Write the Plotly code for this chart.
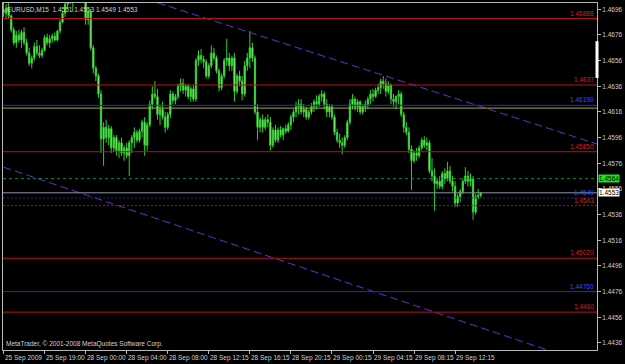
import plotly.graph_objects as go

# ---------------- data (EURUSD M15) ----------------
opens = [1.4696,1.4693,1.4697,1.4691,1.4680,1.4670,1.4676,1.4672,1.4678,1.4670,
 1.4662,1.4654,1.4658,1.4667,1.4662,1.4660,1.4664,1.4674,1.4670,1.4673,
 1.4675,1.4672,1.4679,1.4686,1.4693,1.4700,1.4705,1.4710,1.4708,1.4715,
 1.4712,1.4710,1.4706,1.4688,1.4694,1.4666,1.4650,1.4644,1.4630,1.4595,
 1.4604,1.4596,1.4603,1.4588,1.4596,1.4586,1.4592,1.4584,1.4588,1.4582,
 1.4592,1.4596,1.4600,1.4594,1.4601,1.4608,1.4590,1.4606,1.4622,1.4630,
 1.4628,1.4614,1.4618,1.4612,1.4604,1.4614,1.4630,1.4625,1.4628,1.4636,
 1.4638,1.4633,1.4636,1.4628,1.4634,1.4626,1.4656,1.4660,1.4657,1.4655,
 1.4644,1.4652,1.4662,1.4658,1.4648,1.4635,1.4644,1.4656,1.4658,1.4652,
 1.4658,1.4632,1.4644,1.4640,1.4630,1.4652,1.4658,1.4666,1.4658,1.4616,
 1.4604,1.4610,1.4604,1.4610,1.4608,1.4590,1.4602,1.4594,1.4602,1.4598,
 1.4603,1.4601,1.4606,1.4612,1.4616,1.4620,1.4622,1.4616,1.4618,1.4612,
 1.4616,1.4620,1.4624,1.4622,1.4628,1.4630,1.4622,1.4616,1.4620,1.4612,
 1.4600,1.4594,1.4592,1.4590,1.4596,1.4608,1.4622,1.4626,1.4620,1.4624,
 1.4616,1.4620,1.4622,1.4626,1.4630,1.4628,1.4633,1.4635,1.4640,1.4638,
 1.4632,1.4637,1.4626,1.4624,1.4628,1.4630,1.4614,1.4604,1.4600,1.4587,
 1.4578,1.4584,1.4582,1.4588,1.4594,1.4590,1.4592,1.4570,1.4566,1.4560,
 1.4562,1.4558,1.4568,1.4564,1.4570,1.4562,1.4558,1.4545,1.4550,1.4554,
 1.4562,1.4566,1.4562,1.4564,1.4538,1.4550,1.4551]

highs = [1.4704,1.4700,1.4701,1.4692,1.4682,1.4679,1.4680,1.4680,1.4682,1.4673,
 1.4666,1.4660,1.4670,1.4672,1.4668,1.4666,1.4676,1.4677,1.4676,1.4677,
 1.4678,1.4680,1.4688,1.4695,1.4703,1.4708,1.4712,1.4715,1.4718,1.4720,
 1.4718,1.4714,1.4708,1.4696,1.4696,1.4668,1.4652,1.4646,1.4633,1.4608,
 1.4610,1.4606,1.4605,1.4598,1.4598,1.4594,1.4596,1.4590,1.4592,1.4594,
 1.4598,1.4604,1.4602,1.4603,1.4610,1.4612,1.4608,1.4625,1.4636,1.4640,
 1.4634,1.4622,1.4624,1.4616,1.4616,1.4633,1.4632,1.4630,1.4638,1.4642,
 1.4642,1.4638,1.4638,1.4636,1.4637,1.4658,1.4664,1.4665,1.4660,1.4657,
 1.4654,1.4668,1.4666,1.4660,1.4650,1.4646,1.4658,1.4673,1.4662,1.4660,
 1.4662,1.4646,1.4648,1.4644,1.4656,1.4662,1.4679,1.4670,1.4660,1.4622,
 1.4612,1.4614,1.4612,1.4614,1.4612,1.4604,1.4606,1.4604,1.4605,1.4604,
 1.4606,1.4608,1.4614,1.4618,1.4624,1.4626,1.4626,1.4622,1.4620,1.4618,
 1.4623,1.4626,1.4629,1.4630,1.4633,1.4632,1.4626,1.4622,1.4622,1.4614,
 1.4603,1.4599,1.4596,1.4598,1.4610,1.4626,1.4630,1.4628,1.4626,1.4625,
 1.4622,1.4625,1.4628,1.4633,1.4634,1.4635,1.4638,1.4642,1.4644,1.4642,
 1.4640,1.4638,1.4630,1.4629,1.4633,1.4632,1.4616,1.4608,1.4604,1.4590,
 1.4586,1.4588,1.4590,1.4596,1.4597,1.4596,1.4594,1.4580,1.4572,1.4564,
 1.4566,1.4570,1.4572,1.4577,1.4574,1.4566,1.4562,1.4552,1.4556,1.4564,
 1.4573,1.4570,1.4568,1.4566,1.4552,1.4556,1.4553]

lows = [1.4690,1.4688,1.4689,1.4678,1.4668,1.4666,1.4670,1.4666,1.4668,1.4660,
 1.4652,1.4650,1.4656,1.4660,1.4658,1.4658,1.4663,1.4668,1.4666,1.4670,
 1.4671,1.4671,1.4677,1.4685,1.4690,1.4696,1.4700,1.4694,1.4704,1.4708,
 1.4706,1.4704,1.4684,1.4684,1.4664,1.4646,1.4640,1.4627,1.4584,1.4574,
 1.4592,1.4590,1.4584,1.4585,1.4582,1.4580,1.4582,1.4578,1.4580,1.4566,
 1.4584,1.4588,1.4592,1.4592,1.4596,1.4582,1.4586,1.4604,1.4618,1.4626,
 1.4610,1.4606,1.4610,1.4600,1.4602,1.4611,1.4622,1.4622,1.4626,1.4632,
 1.4630,1.4628,1.4626,1.4624,1.4624,1.4624,1.4652,1.4654,1.4650,1.4642,
 1.4642,1.4650,1.4656,1.4646,1.4632,1.4633,1.4642,1.4652,1.4648,1.4648,
 1.4624,1.4630,1.4636,1.4625,1.4628,1.4648,1.4650,1.4655,1.4614,1.4594,
 1.4600,1.4600,1.4602,1.4604,1.4586,1.4588,1.4592,1.4592,1.4596,1.4594,
 1.4599,1.4600,1.4602,1.4608,1.4612,1.4614,1.4614,1.4612,1.4610,1.4610,
 1.4614,1.4616,1.4618,1.4620,1.4624,1.4618,1.4612,1.4612,1.4610,1.4598,
 1.4592,1.4588,1.4583,1.4588,1.4594,1.4606,1.4618,1.4617,1.4616,1.4614,
 1.4614,1.4616,1.4618,1.4622,1.4624,1.4627,1.4630,1.4630,1.4634,1.4628,
 1.4630,1.4622,1.4620,1.4618,1.4622,1.4612,1.4600,1.4598,1.4584,1.4555,
 1.4576,1.4578,1.4580,1.4586,1.4588,1.4586,1.4568,1.4562,1.4539,1.4556,
 1.4556,1.4556,1.4560,1.4562,1.4560,1.4554,1.4542,1.4542,1.4546,1.4552,
 1.4560,1.4558,1.4558,1.4532,1.4536,1.4548,1.4549]

closes = [1.4693,1.4697,1.4691,1.4680,1.4670,1.4676,1.4672,1.4678,1.4670,1.4662,
 1.4654,1.4658,1.4667,1.4662,1.4660,1.4664,1.4674,1.4670,1.4673,1.4675,
 1.4672,1.4679,1.4686,1.4693,1.4700,1.4705,1.4710,1.4708,1.4715,1.4712,
 1.4710,1.4706,1.4688,1.4694,1.4666,1.4650,1.4644,1.4630,1.4595,1.4604,
 1.4596,1.4603,1.4588,1.4596,1.4586,1.4592,1.4584,1.4588,1.4582,1.4592,
 1.4596,1.4600,1.4594,1.4601,1.4608,1.4590,1.4606,1.4622,1.4630,1.4628,
 1.4614,1.4618,1.4612,1.4604,1.4614,1.4630,1.4625,1.4628,1.4636,1.4638,
 1.4633,1.4636,1.4628,1.4634,1.4626,1.4656,1.4660,1.4657,1.4655,1.4644,
 1.4652,1.4662,1.4658,1.4648,1.4635,1.4644,1.4656,1.4658,1.4652,1.4658,
 1.4632,1.4644,1.4640,1.4630,1.4652,1.4658,1.4666,1.4658,1.4616,1.4604,
 1.4610,1.4604,1.4610,1.4608,1.4590,1.4602,1.4594,1.4602,1.4598,1.4603,
 1.4601,1.4606,1.4612,1.4616,1.4620,1.4622,1.4616,1.4618,1.4612,1.4616,
 1.4620,1.4624,1.4622,1.4628,1.4630,1.4622,1.4616,1.4620,1.4612,1.4600,
 1.4594,1.4592,1.4590,1.4596,1.4608,1.4622,1.4626,1.4620,1.4624,1.4616,
 1.4620,1.4622,1.4626,1.4630,1.4628,1.4633,1.4635,1.4640,1.4638,1.4632,
 1.4637,1.4626,1.4624,1.4628,1.4630,1.4614,1.4604,1.4600,1.4587,1.4578,
 1.4584,1.4582,1.4588,1.4594,1.4590,1.4592,1.4570,1.4566,1.4560,1.4562,
 1.4558,1.4568,1.4564,1.4570,1.4562,1.4558,1.4545,1.4550,1.4554,1.4562,
 1.4566,1.4562,1.4564,1.4538,1.4550,1.4551,1.4553]

bars = list(range(len(closes)))

# time axis labels (one every 16 bars)
time_tick_bars = [0, 16, 32, 48, 64, 80, 96, 112, 128, 144, 160, 176]
time_tick_text = ["25 Sep 2009", "25 Sep 19:00", "28 Sep 00:00", "28 Sep 04:00",
                  "28 Sep 08:00", "28 Sep 12:15", "28 Sep 16:15", "28 Sep 20:15",
                  "29 Sep 00:15", "29 Sep 04:15", "29 Sep 08:15", "29 Sep 12:15"]

# price scale labels
price_ticks = [1.4696, 1.4676, 1.4656, 1.4636, 1.4616, 1.4596, 1.4576, 1.4556,
               1.4536, 1.4516, 1.4496, 1.4476, 1.4456, 1.4436]

# horizontal line objects
solid_red_levels = [1.46888, 1.4637, 1.4585, 1.4502, 1.4460]
solid_red_labels = ["1.46888", "1.4637", "1.45850", "1.45020", "1.4460"]
solid_blue_levels = [1.46212, 1.4476]
solid_blue_labels = ["1.46190", "1.44760"]
olive_level = 1.4619
dotted_blue_level = 1.4549
dotted_blue_label = "1.4549"
dotted_red_level = 1.4543
dotted_red_label = "1.4543"
dashed_green_level = 1.4564
bid_level = 1.4553

# trend lines (bar index, price)
trend_upper_bars = [60, 232]
trend_upper_prices = [1.47011, 1.45906]
trend_lower_bars = [0, 232]
trend_lower_prices = [1.4573, 1.4417]

header_text = "EURUSD,M15  1.4551 1.4553 1.4549 1.4553"
copyright_text = "MetaTrader, © 2001-2008 MetaQuotes Software Corp."

# ---------------- figure ----------------
FONT = "Liberation Sans, Arial, sans-serif"
AX = "#b8b8b8"
TXT = "#d0d0d0"

fig = go.Figure()

fig.add_trace(go.Candlestick(
    x=bars, open=opens, high=highs, low=lows, close=closes,
    increasing=dict(line=dict(color="#2fd02f", width=1), fillcolor="#a8ff8c"),
    decreasing=dict(line=dict(color="#2fd02f", width=1), fillcolor="#d8ffc8"),
    whiskerwidth=0, showlegend=False, hoverinfo="skip"))

for xs, ys in [(trend_upper_bars, trend_upper_prices), (trend_lower_bars, trend_lower_prices)]:
    fig.add_trace(go.Scatter(x=xs, y=ys, mode="lines", showlegend=False, hoverinfo="skip",
                             line=dict(color="#6a2cd2", width=1, dash="8px,4px")))

shapes = []
def hline(y, color, dash="solid", width=1):
    shapes.append(dict(type="line", xref="paper", x0=0, x1=1, yref="y", y0=y, y1=y,
                       line=dict(color=color, width=width, dash=dash), layer="above"))

for lv in solid_red_levels:
    hline(lv, "#b81414")
for lv in solid_blue_levels:
    hline(lv, "#1830d0")
hline(olive_level, "#a8a830")
hline(dashed_green_level, "#0a8a4a", dash="3px,3px")
hline(bid_level, "#8c94a8")
hline(dotted_blue_level, "#2020b0", dash="2px,2px")
hline(dotted_red_level, "#b81414", dash="2px,2px")

# white marker on price scale
shapes.append(dict(type="line", xref="paper", x0=1, x1=1, yref="paper", y0=0.784, y1=0.89,
                   line=dict(color="#ffffff", width=3)))

annotations = []
def line_label(y, text, color):
    annotations.append(dict(xref="paper", x=1, xanchor="right", xshift=-1,
                            yref="y", y=y, yanchor="bottom", yshift=0,
                            text=text, showarrow=False,
                            font=dict(family=FONT, size=6.5, color=color)))

for lv, t in zip(solid_red_levels, solid_red_labels):
    line_label(lv, t, "#d02020")
for lv, t in zip(solid_blue_levels, solid_blue_labels):
    line_label(lv, t, "#3050ff")
line_label(dotted_blue_level, dotted_blue_label, "#3050ff")
line_label(dotted_red_level, dotted_red_label, "#d02020")

# price boxes on the scale
annotations.append(dict(xref="paper", x=1, xanchor="left", xshift=1, yref="y", y=dashed_green_level,
                        yanchor="middle", text="1.4564", showarrow=False, bgcolor="#22e022",
                        borderpad=0, font=dict(family=FONT, size=6.5, color="#000000")))
annotations.append(dict(xref="paper", x=1, xanchor="left", xshift=1, yref="y", y=bid_level,
                        yanchor="middle", text="1.4553", showarrow=False, bgcolor="#ffffff",
                        borderpad=0, font=dict(family=FONT, size=6.5, color="#000000")))

# time labels
for b, t in zip(time_tick_bars, time_tick_text):
    annotations.append(dict(xref="x", x=b, xanchor="left", xshift=-1, yref="paper", y=0,
                            yanchor="top", yshift=-2, text=t, showarrow=False,
                            font=dict(family=FONT, size=6.5, color=TXT)))

annotations.append(dict(xref="paper", x=0, xanchor="left", xshift=2, yref="paper", y=1,
                        yanchor="top", yshift=-1, text=header_text, showarrow=False,
                        font=dict(family=FONT, size=6.5, color=TXT)))
annotations.append(dict(xref="paper", x=0, xanchor="left", xshift=1, yref="paper", y=0,
                        yanchor="bottom", yshift=0, text=copyright_text, showarrow=False,
                        font=dict(family=FONT, size=6.5, color=TXT)))

fig.update_layout(
    width=625, height=364,
    margin=dict(l=2, r=27, t=2, b=14),
    paper_bgcolor="#000000", plot_bgcolor="#000000",
    shapes=shapes, annotations=annotations,
    xaxis=dict(range=[-0.2, 231.3], showgrid=False, zeroline=False,
               rangeslider=dict(visible=False), tickvals=time_tick_bars,
               showticklabels=False, ticks="outside", ticklen=3, tickcolor=AX,
               showline=True, linecolor=AX, linewidth=1, mirror=True),
    yaxis=dict(range=[1.44305, 1.47009], side="right", showgrid=False, zeroline=False,
               tickvals=price_ticks, ticktext=[f"{v:.4f}" for v in price_ticks],
               ticks="outside", ticklen=3, tickcolor=AX,
               tickfont=dict(family=FONT, size=6.5, color=TXT),
               showline=True, linecolor=AX, linewidth=1, mirror=True),
)

fig.write_html("out.html")
